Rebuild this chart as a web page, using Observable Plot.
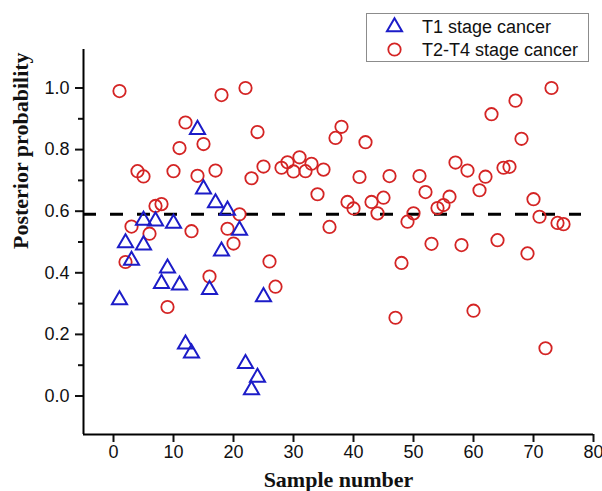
<!DOCTYPE html>
<html><head><meta charset="utf-8">
<script src="https://cdn.jsdelivr.net/npm/d3@7"></script>
<script src="https://cdn.jsdelivr.net/npm/@observablehq/plot@0.6"></script>
<style>
body{margin:0;background:#fff}
#wrap{position:relative;width:602px;height:491px}
#legend{position:absolute;left:366px;top:13px;width:223px;height:49px;box-sizing:border-box;border:1px solid #8c8c8c;background:#fff}
#legend svg{display:block}
</style></head>
<body><div id="wrap"><div id="legend"></div></div>
<script>
const xTicks = [0, 10, 20, 30, 40, 50, 60, 70, 80];
const yTicks = [0, 0.2, 0.4, 0.6, 0.8, 1.0];
const yMinor = [0.1, 0.3, 0.5, 0.7, 0.9];
const threshold = 0.59;
const seriesNames = ["T1 stage cancer", "T2-T4 stage cancer"];

const t1Sample = [1, 2, 3, 5, 5, 7, 8, 9, 10, 11, 12, 13, 14, 15, 16, 17, 18, 19, 21, 22, 23, 24, 25];
const t1Prob = [0.312, 0.497, 0.44, 0.49, 0.57, 0.568, 0.365, 0.415, 0.56, 0.36, 0.168, 0.139, 0.865, 0.672, 0.345, 0.627, 0.47, 0.603, 0.538, 0.105, 0.02, 0.06, 0.322];

const t2Sample = d3.range(1, 76);
const t2Prob = [0.99, 0.435, 0.55, 0.73, 0.713, 0.527, 0.617, 0.623, 0.289, 0.73,
  0.805, 0.888, 0.535, 0.715, 0.818, 0.388, 0.732, 0.977, 0.543, 0.495,
  0.59, 1.0, 0.707, 0.857, 0.745, 0.437, 0.355, 0.741, 0.759, 0.729,
  0.775, 0.73, 0.754, 0.655, 0.735, 0.549, 0.838, 0.874, 0.63, 0.609,
  0.711, 0.824, 0.63, 0.593, 0.644, 0.714, 0.254, 0.432, 0.566, 0.593,
  0.714, 0.662, 0.494, 0.61, 0.62, 0.647, 0.758, 0.49, 0.732, 0.277,
  0.668, 0.712, 0.915, 0.506, 0.741, 0.744, 0.959, 0.835, 0.463, 0.639,
  0.582, 0.155, 1.0, 0.562, 0.558];

const red = "#d42424";
const blue = "#1c1cc8";

const t1 = t1Sample.map((s, i) => ({sample: s, prob: t1Prob[i]}));
const t2 = t2Sample.map((s, i) => ({sample: s, prob: t2Prob[i]}));

const xDomain = [-5, 80];
const yDomain = [-0.125, 1.125];

const chart = Plot.plot({
  width: 602, height: 491,
  marginLeft: 83, marginRight: 9, marginTop: 49, marginBottom: 57,
  x: {domain: xDomain},
  y: {domain: yDomain},
  style: {fontFamily: "'Liberation Sans', Arial, sans-serif", fontSize: "18px", color: "#111", background: "white", overflow: "visible"},
  marks: [
    Plot.ruleY([threshold], {x1: xDomain[0], x2: 78, stroke: "black", strokeWidth: 3, strokeDasharray: "13,14"}),
    Plot.dot(t2, {x: "sample", y: "prob", r: 6.2, stroke: red, strokeWidth: 1.8, fill: "none"}),
    Plot.dot(t1, {x: "sample", y: "prob", symbol: "triangle", r: 5.6, stroke: blue, strokeWidth: 2, fill: "none"}),
    Plot.axisX({ticks: xTicks, tickSize: 8, tickPadding: 3, label: null, strokeWidth: 2}),
    Plot.axisY({ticks: yTicks, tickSize: 8, tickPadding: 6, label: null, strokeWidth: 2, tickFormat: d3.format(".1f")}),
    Plot.axisY({ticks: yMinor, tickSize: 5, text: null, label: null, strokeWidth: 2}),
    Plot.ruleX([xDomain[0]], {stroke: "black", strokeWidth: 2}),
    Plot.ruleY([yDomain[0]], {stroke: "black", strokeWidth: 2}),
    Plot.text(["Sample number"], {text: d => d, frameAnchor: "bottom", lineAnchor: "middle", dy: 45, fontFamily: "'Liberation Serif', 'Times New Roman', serif", fontWeight: "bold", fontSize: 22, fill: "#111"}),
    Plot.text(["Posterior probability"], {text: d => d, frameAnchor: "left", lineAnchor: "middle", rotate: -90, dx: -63, dy: 7, fontFamily: "'Liberation Serif', 'Times New Roman', serif", fontWeight: "bold", fontSize: 22, fill: "#111"})
  ]
});
document.getElementById("wrap").prepend(chart);

// legend
const lg = d3.select("#legend").append("svg").attr("width", 221).attr("height", 47);
const sym = d3.symbol().type(d3.symbolTriangle).size(Math.PI * 5.6 * 5.6);
lg.append("path").attr("d", sym()).attr("transform", "translate(27.5,13)")
  .attr("fill", "none").attr("stroke", blue).attr("stroke-width", 2);
lg.append("circle").attr("cx", 27.5).attr("cy", 35.5).attr("r", 6.2)
  .attr("fill", "none").attr("stroke", red).attr("stroke-width", 1.8);
lg.selectAll("text").data(seriesNames).join("text")
  .attr("x", 55).attr("y", (d, i) => i === 0 ? 18.5 : 41.5)
  .attr("font-family", "'Liberation Sans', Arial, sans-serif").attr("font-size", 18).attr("fill", "#111")
  .text(d => d);
</script>
</body></html>
